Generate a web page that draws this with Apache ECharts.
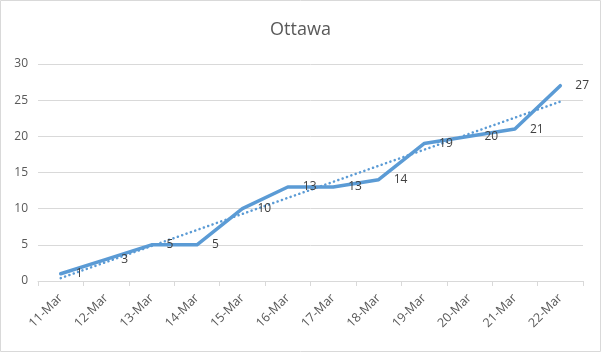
<!DOCTYPE html>
<html>
<head>
<meta charset="utf-8">
<script src="https://cdn.jsdelivr.net/npm/echarts@6/dist/echarts.min.js"></script>
<style>
  body { margin: 0; background: #fff; }
  #chart { width: 601px; height: 352px; }
</style>
</head>
<body>
<div id="chart"></div>
<script>
// daily values
const days = ['11-Mar', '12-Mar', '13-Mar', '14-Mar', '15-Mar', '16-Mar',
  '17-Mar', '18-Mar', '19-Mar', '20-Mar', '21-Mar', '22-Mar']
const cases = [1, 3, 5, 5, 10, 13, 13, 14, 19, 20, 21, 27]
// dotted linear trendline, only its ends are drawn
const trendEnds = [0.4, 24.8]

const trend = days.map((d, i) => i === 0 ? trendEnds[0] : (i === days.length - 1 ? trendEnds[1] : '-'))

const blue = '#5b9bd5'
const font = '"Open Sans", "Noto Sans", sans-serif'

const chart = echarts.init(document.getElementById('chart'))
chart.setOption({
  animation: false,
  textStyle: { fontFamily: font },
  graphic: [{
    type: 'rect',
    shape: { x: 0.5, y: 0.5, width: 600, height: 351 },
    style: { fill: 'none', stroke: '#d9d9d9', lineWidth: 1 },
    silent: true
  }],
  title: {
    text: 'Ottawa',
    left: 'center',
    top: 16,
    textStyle: { fontFamily: font, fontSize: 18, fontWeight: 'normal', color: '#595959' }
  },
  grid: { left: 38, right: 18, top: 64, bottom: 71 },
  xAxis: {
    type: 'category',
    data: days,
    boundaryGap: true,
    axisLine: { lineStyle: { color: '#d9d9d9', width: 1 } },
    axisTick: { show: true, length: 5, lineStyle: { color: '#d9d9d9' } },
    axisLabel: { rotate: 45, color: '#595959', fontSize: 12.5, fontFamily: font, margin: 15 }
  },
  yAxis: {
    type: 'value',
    min: 0,
    max: 30,
    interval: 5,
    axisLine: { show: false },
    axisTick: { show: false },
    splitLine: { lineStyle: { color: '#d9d9d9' } },
    axisLabel: { color: '#595959', fontSize: 12, fontFamily: font, margin: 10 }
  },
  series: [
    {
      name: 'Ottawa',
      type: 'line',
      data: cases,
      symbol: 'circle',
      symbolSize: 2,
      showSymbol: true,
      itemStyle: { color: blue },
      lineStyle: { color: blue, width: 3.5, cap: 'round', join: 'round' },
      label: {
        show: true,
        position: 'right',
        distance: 14,
        offset: [0, 1],
        color: '#404040',
        fontSize: 12,
        fontFamily: font
      },
      labelLayout: { hideOverlap: false },
      z: 3
    },
    {
      name: 'trend',
      type: 'line',
      data: trend,
      connectNulls: true,
      symbol: 'none',
      lineStyle: { color: blue, width: 2.5, type: [0.1, 4.5], cap: 'round' },
      z: 2
    }
  ]
})
</script>
</body>
</html>
